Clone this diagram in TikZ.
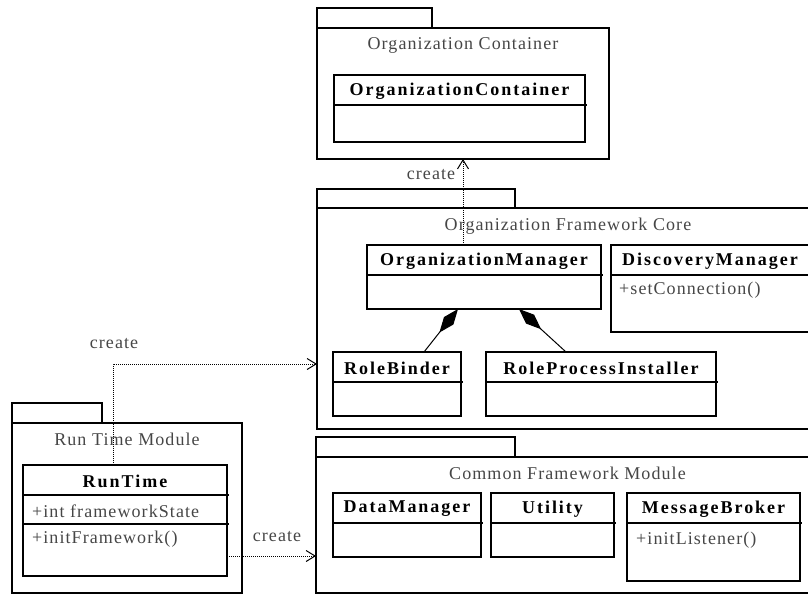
\documentclass[tikz,border=0pt]{standalone}
\usepackage{fontspec}
\setmainfont{Liberation Serif}
\newfontfamily\umlreg[LetterSpace=6]{Liberation Serif}
\newfontfamily\umlbf[LetterSpace=11]{Liberation Serif}
\usetikzlibrary{arrows.meta,calc}
\definecolor{txtgray}{RGB}{70,70,70}
\tikzset{
  pkg/.style={draw, line width=1.3pt, anchor=north west, inner sep=0pt, outer sep=0pt},
  cls/.style={draw, line width=1.3pt, anchor=north west, inner sep=0pt, outer sep=0pt},
  divider/.style={line width=1.3pt},
  ptitle/.style={font=\umlreg\fontsize{18}{20}\selectfont, text=txtgray, inner sep=0pt},
  cname/.style={font=\umlbf\bfseries\fontsize{18}{20}\selectfont, inner sep=0pt},
  member/.style={font=\umlreg\fontsize{18}{20}\selectfont, text=txtgray, anchor=west, inner sep=0pt},
  lbl/.style={font=\umlreg\fontsize{18}{20}\selectfont, text=txtgray, inner sep=0pt},
  dep/.style={line width=1pt, dash pattern=on 1pt off 1pt, -{Straight Barb[length=9pt,width=11pt,line width=1pt]}},
  comp/.style={line width=1pt, {Diamond[length=30pt,width=12pt]}-}
}
\newcommand{\umlclass}[6]{% name, x, y, w, h, title
  \node[cls, minimum width=#4pt, minimum height=#5pt] (#1) at (#2,#3) {};
  \node[cname] (#1-name) at ($(#1.north)+(0,16)$) {#6};
  \draw[divider] ($(#1.north west)+(0,30)$) -- ($(#1.north east)+(2,30)$);
}
\begin{document}
\begin{tikzpicture}[x=1pt, y=-1pt]
\useasboundingbox (0,0) rectangle (808,595);
% Organization Container package
\node[pkg, minimum width=115pt, minimum height=20pt] (octab) at (317,8) {};
\node[pkg, minimum width=292pt, minimum height=131pt] (ocpkg) at (317,28) {};
\node[ptitle] (octitle) at ($(ocpkg.north)+(0,17)$) {Organization Container};
\umlclass{oc}{334}{75}{251}{67}{OrganizationContainer}
% Organization Framework Core package
\node[pkg, minimum width=198pt, minimum height=19pt] (ofctab) at (317,189) {};
\node[pkg, minimum width=502pt, minimum height=221pt] (ofcpkg) at (317,208) {};
\node[ptitle] (ofctitle) at ($(ofcpkg.north)+(0,18)$) {Organization Framework Core};
\umlclass{om}{367}{245}{234}{64}{OrganizationManager}
\umlclass{dm}{611}{245}{198}{87}{DiscoveryManager}
\node[member] (dm-op) at ($(dm.north west)+(8,45)$) {+setConnection()};
\umlclass{rb}{333}{352}{128}{64}{RoleBinder}
\umlclass{rpi}{486}{352}{230}{64}{RoleProcessInstaller}
% Run Time Module package
\node[pkg, minimum width=90pt, minimum height=20pt] (rttab) at (12,403) {};
\node[pkg, minimum width=230pt, minimum height=170pt] (rtpkg) at (12,423) {};
\node[ptitle] (rttitle) at ($(rtpkg.north)+(0,16)$) {Run Time Module};
\umlclass{rt}{23}{465}{204}{111}{RunTime}
\draw[divider] ($(rt.north west)+(0,59)$) -- ($(rt.north east)+(2,59)$);
\node[member] (rt-attr) at ($(rt.north west)+(9,46)$) {+int frameworkState};
\node[member] (rt-op) at ($(rt.north west)+(9,74)$) {+initFramework()};
% Common Framework Module package
\node[pkg, minimum width=199pt, minimum height=20pt] (cfmtab) at (316,437) {};
\node[pkg, minimum width=503pt, minimum height=136pt] (cfmpkg) at (316,457) {};
\node[ptitle] (cfmtitle) at ($(cfmpkg.north)+(0,16)$) {Common Framework Module};
\umlclass{dam}{333}{493}{148}{64}{DataManager}
\umlclass{ut}{491}{493}{123}{64}{Utility}
\umlclass{mb}{627}{493}{173}{88}{MessageBroker}
\node[member] (mb-op) at ($(mb.north west)+(9,47)$) {+initListener()};
% compositions
\draw[comp] ($(om.south west)+(91,0)$) -- ($(rb.north west)+(91,0)$);
\draw[comp] ($(om.south west)+(152,0)$) -- ($(rpi.north west)+(80,0)$);
% dependencies
\coordinate (d1) at ($(om.north west)+(96,0)$);
\draw[dep] (d1) -- (d1 |- ocpkg.south);
\node[lbl] (l1) at (431,175) {create};
\coordinate (d2) at ($(rt.north west)+(90,0)$);
\draw[dep] (d2) |- ($(ofcpkg.north west)+(0,156)$);
\node[lbl] (l2) at (114,344) {create};
\coordinate (d3) at ($(rt.north east)+(0,91)$);
\draw[dep] (d3) -- (d3 -| cfmpkg.west);
\node[lbl] (l3) at (277,537) {create};
\end{tikzpicture}
\end{document}
